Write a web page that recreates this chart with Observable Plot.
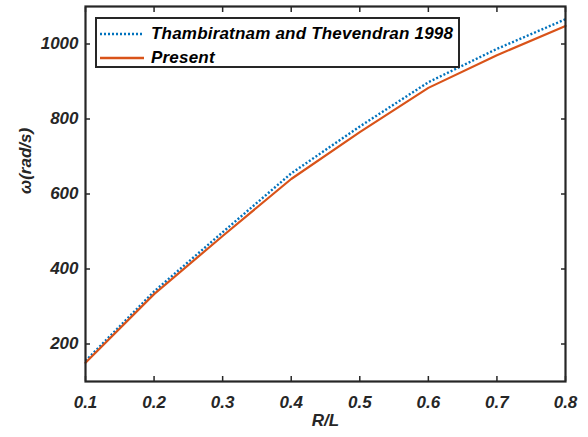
<!DOCTYPE html>
<html>
<head>
<meta charset="utf-8">
<script src="https://cdn.jsdelivr.net/npm/d3@7"></script>
<script src="https://cdn.jsdelivr.net/npm/@observablehq/plot@0.6"></script>
<style>
  body { margin: 0; background: #fff; }
  #wrap { position: relative; width: 588px; height: 437px; font-family: "Liberation Sans", Arial, sans-serif; }
  #legend { position: absolute; left: 95px; top: 17px; width: 365px; height: 51px; border: 2px solid #262626; background: #fff; box-sizing: border-box; }
  .row { position: absolute; left: 0; height: 20px; display: flex; align-items: center; }
  .row span { font-weight: bold; font-style: italic; font-size: 17px; letter-spacing: 0.2px; color: #000; margin-left: 4px; white-space: nowrap; }
</style>
</head>
<body>
<div id="wrap"></div>
<script>
const rl = [0.1, 0.2, 0.3, 0.4, 0.5, 0.6, 0.7, 0.8];
const thambiratnam = [155, 340, 498, 655, 780, 898, 987, 1066];
const present = [150, 333, 488, 640, 765, 883, 970, 1048];
const seriesNames = ["Thambiratnam and Thevendran 1998", "Present"];
const seriesColors = ["#0072BD", "#D95319"];
const xTicks = [0.1, 0.2, 0.3, 0.4, 0.5, 0.6, 0.7, 0.8];
const yTicks = [200, 400, 600, 800, 1000];
const xLabel = "R/L";
const yLabel = "ω(rad/s)";

const dataT = rl.map((x, i) => ({x, y: thambiratnam[i]}));
const dataP = rl.map((x, i) => ({x, y: present[i]}));
const axisColor = "#262626";

const chart = Plot.plot({
  width: 588,
  height: 437,
  marginLeft: 85,
  marginRight: 23,
  marginTop: 6,
  marginBottom: 56,
  style: {fontFamily: "'Liberation Sans', Arial, sans-serif", fontSize: "17px", fontWeight: "bold", fontStyle: "italic", color: axisColor, background: "#fff"},
  x: {domain: [0.1, 0.8]},
  y: {domain: [100, 1100]},
  marks: [
    Plot.line(dataT, {x: "x", y: "y", stroke: seriesColors[0], strokeWidth: 2.4, strokeDasharray: "2,2", strokeLinecap: "butt"}),
    Plot.line(dataP, {x: "x", y: "y", stroke: seriesColors[1], strokeWidth: 2.2}),
    Plot.axisX({anchor: "bottom", ticks: xTicks, tickSize: -5, tickPadding: 19, tickFormat: d => d.toFixed(1), label: null, stroke: axisColor, strokeWidth: 1.5, fill: axisColor}),
    Plot.axisX({anchor: "top", ticks: xTicks, tickSize: -5, tickFormat: () => "", label: null, stroke: axisColor, strokeWidth: 1.5}),
    Plot.axisY({anchor: "left", ticks: yTicks, tickSize: -5, tickPadding: 12, tickFormat: d => String(d), label: null, stroke: axisColor, strokeWidth: 1.5, fill: axisColor}),
    Plot.axisY({anchor: "right", ticks: yTicks, tickSize: -5, tickFormat: () => "", label: null, stroke: axisColor, strokeWidth: 1.5}),
    Plot.frame({stroke: axisColor, strokeWidth: 2.2}),
    Plot.text([xLabel], {frameAnchor: "bottom", dy: 44, fill: axisColor, fontSize: 17, fontWeight: "bold", fontStyle: "italic"}),
    Plot.text([yLabel], {frameAnchor: "left", dx: -60, rotate: -90, fill: axisColor, fontSize: 17, fontWeight: "bold", fontStyle: "italic"})
  ]
});

const wrap = document.getElementById("wrap");
wrap.appendChild(chart);

const legend = document.createElement("div");
legend.id = "legend";
seriesNames.forEach((name, i) => {
  const row = document.createElement("div");
  row.className = "row";
  row.style.top = (i === 0 ? 5 : 29) + "px";
  const dash = i === 0 ? 'stroke-dasharray="2,2"' : "";
  row.innerHTML = `<svg width="50" height="20"><line x1="3" x2="47" y1="10" y2="10" stroke="${seriesColors[i]}" stroke-width="2.4" ${dash}/></svg><span>${name}</span>`;
  legend.appendChild(row);
});
wrap.appendChild(legend);
</script>
</body>
</html>
